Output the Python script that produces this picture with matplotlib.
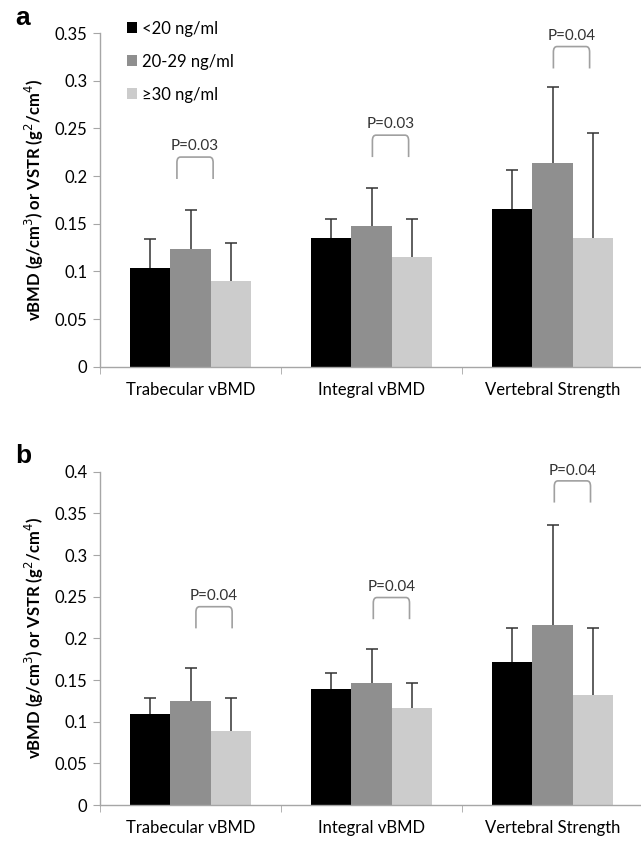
import numpy as np
import matplotlib
matplotlib.use("Agg")
import matplotlib.pyplot as plt
from matplotlib.path import Path
from matplotlib.patches import PathPatch

plt.rcParams['font.family'] = ['Lato', 'DejaVu Sans']

categories = ["Trabecular vBMD", "Integral vBMD", "Vertebral Strength"]
groups = ["<20 ng/ml", "20-29 ng/ml", "\u226530 ng/ml"]

# panel a: means and (upper) SD
a_lt20 = [0.104, 0.135, 0.166]
a_lt20_sd = [0.030, 0.020, 0.040]
a_20_29 = [0.124, 0.148, 0.214]
a_20_29_sd = [0.040, 0.040, 0.080]
a_ge30 = [0.090, 0.1155, 0.135]
a_ge30_sd = [0.040, 0.040, 0.110]

# panel b
b_lt20 = [0.109, 0.139, 0.172]
b_lt20_sd = [0.020, 0.020, 0.040]
b_20_29 = [0.125, 0.147, 0.216]
b_20_29_sd = [0.040, 0.040, 0.120]
b_ge30 = [0.089, 0.116, 0.132]
b_ge30_sd = [0.040, 0.030, 0.080]

a_pvals = ["P=0.03", "P=0.03", "P=0.04"]
a_brk_bottom = [0.197, 0.220, 0.313]
a_brk_left = [-0.075, 1.005, 2.005]
b_pvals = ["P=0.04", "P=0.04", "P=0.04"]
b_brk_bottom = [0.212, 0.223, 0.363]
b_brk_left = [0.03, 1.01, 2.01]

colors = ["#000000", "#8f8f8f", "#cccccc"]
axis_col = "#a6a6a6"


def bracket(ax, x0, y0, w, h):
    rx = 0.02
    ry = h * 0.25
    verts = [(x0, y0), (x0, y0 + h - ry), (x0, y0 + h), (x0 + rx, y0 + h),
             (x0 + w - rx, y0 + h), (x0 + w, y0 + h), (x0 + w, y0 + h - ry),
             (x0 + w, y0)]
    codes = [Path.MOVETO, Path.LINETO, Path.CURVE3, Path.CURVE3,
             Path.LINETO, Path.CURVE3, Path.CURVE3, Path.LINETO]
    ax.add_patch(PathPatch(Path(verts, codes), fill=False, edgecolor="#a0a0a0",
                           lw=1.2, clip_on=False))


def panel(ax, series, sds, pvals, brk_left, brk_bottom, ymax, brk_h):
    x = np.arange(len(categories))
    w = 0.222
    for i, (vals, sd) in enumerate(zip(series, sds)):
        xs = x + (i - 1) * w
        ax.bar(xs, vals, w, color=colors[i], label=groups[i])
        eb = ax.errorbar(xs, vals, yerr=[np.zeros(len(sd)), sd], fmt="none",
                         ecolor="#333333", capsize=4, elinewidth=1.1,
                         capthick=1.1)
        eb[1][0].set_visible(False)
    for j in range(len(categories)):
        bracket(ax, brk_left[j], brk_bottom[j], 0.2, brk_h)
        ax.text(brk_left[j] + 0.1, brk_bottom[j] + brk_h + 0.004, pvals[j],
                ha="center", va="bottom", fontsize=11, color="#333333")
    ax.set_xlim(-0.5, 2.5)
    ax.set_ylim(0, ymax)
    yt = np.arange(0, ymax + 1e-9, 0.05)
    ax.set_yticks(yt)
    ax.set_yticklabels([f"{v:g}" for v in np.round(yt, 2)], fontsize=12)
    ax.set_xticks(x)
    ax.set_xticklabels(categories, fontsize=12)
    ax.set_xticks([-0.5, 0.5, 1.5, 2.5], minor=True)
    ax.tick_params(axis="x", which="major", length=0, pad=11)
    ax.tick_params(axis="x", which="minor", length=5, color=axis_col)
    ax.tick_params(axis="y", length=5, color=axis_col, pad=4)
    for s in ["top", "right"]:
        ax.spines[s].set_visible(False)
    for s in ["left", "bottom"]:
        ax.spines[s].set_color(axis_col)
        ax.spines[s].set_linewidth(1.0)
    ax.set_ylabel("vBMD (g/cm$^3$) or VSTR (g$^2$/cm$^4$)", fontsize=12,
                  fontweight="bold", labelpad=6)


fig = plt.figure(figsize=(6.41, 8.41), dpi=100)
ax1 = fig.add_axes([100 / 641, 0.564, 543 / 641, 0.3965])
ax2 = fig.add_axes([100 / 641, 0.0428, 543 / 641, 0.3963])

panel(ax1, [a_lt20, a_20_29, a_ge30], [a_lt20_sd, a_20_29_sd, a_ge30_sd],
      a_pvals, a_brk_left, a_brk_bottom, 0.35, 0.023)
panel(ax2, [b_lt20, b_20_29, b_ge30], [b_lt20_sd, b_20_29_sd, b_ge30_sd],
      b_pvals, b_brk_left, b_brk_bottom, 0.4, 0.026)

# legend (panel a only)
ax1.legend(loc="upper left", bbox_to_anchor=(0.05, 1.038), frameon=False,
           fontsize=12, handlelength=0.6, handleheight=0.6, handletextpad=0.3,
           labelspacing=1.02, borderpad=0, borderaxespad=0)

fig.text(15 / 641, 1 - 25 / 841, "a", fontsize=19, fontweight="bold",
         family=["Liberation Sans", "DejaVu Sans"], va="baseline")
fig.text(15 / 641, 1 - 463 / 841, "b", fontsize=19, fontweight="bold",
         family=["Liberation Sans", "DejaVu Sans"], va="baseline")

fig.savefig("out.png", dpi=100)
